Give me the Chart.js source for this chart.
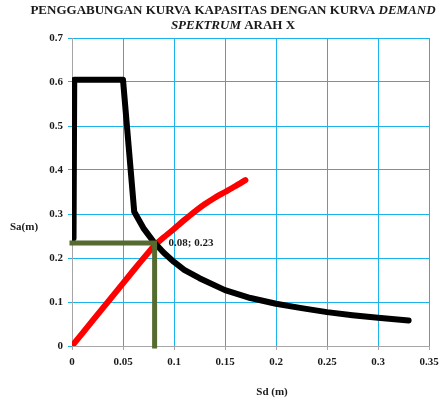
<!DOCTYPE html>
<html>
<head>
<meta charset="utf-8">
<script src="https://cdn.jsdelivr.net/npm/chart.js@4.4.0/dist/chart.umd.min.js"></script>
<style>
  html, body { margin: 0; padding: 0; background: #fff; }
  canvas { display: block; }
</style>
</head>
<body>
<canvas id="chart" width="439" height="404"></canvas>
<script>
// Axis tick labels
const xTickLabels = ['0', '0.05', '0.1', '0.15', '0.2', '0.25', '0.3', '0.35'];
const yTickLabels = ['0', '0.1', '0.2', '0.3', '0.4', '0.5', '0.6', '0.7'];

// Capacity curve (Sd in m, Sa)
const capacitySd = [0.001, 0.02, 0.04, 0.06, 0.08, 0.09, 0.10, 0.11, 0.12, 0.13, 0.14, 0.15, 0.16, 0.17];
const capacitySa = [0.003, 0.057, 0.114, 0.171, 0.226, 0.247, 0.266, 0.286, 0.305, 0.322, 0.337, 0.350, 0.363, 0.377];

// Demand spectrum (Sd in m, Sa)
const demandSd = [0.0015, 0.0022, 0.050, 0.061, 0.070, 0.080, 0.090, 0.100, 0.110, 0.125, 0.150, 0.175, 0.200, 0.225, 0.250, 0.275, 0.300, 0.330];
const demandSa = [0.245, 0.605, 0.605, 0.305, 0.268, 0.237, 0.212, 0.191, 0.173, 0.154, 0.127, 0.109, 0.096, 0.086, 0.077, 0.070, 0.064, 0.058];

// Performance point
const perfSd = 0.081;
const perfSa = 0.234;

// Title pieces: [text, italic]
const titleLine1 = [['PENGGABUNGAN KURVA KAPASITAS DENGAN KURVA ', false], ['DEMAND', true]];
const titleLine2 = [['SPEKTRUM', true], [' ARAH X', false]];
const xAxisTitle = 'Sd (m)';
const yAxisTitle = 'Sa(m)';

const serif = '"Liberation Serif", "Times New Roman", serif';
const gridBlue = '#1CB2EC';
const axisGrey = '#A6A6A6';
const textColor = '#1a1a1a';

const toPoints = (xs, ys) => xs.map((v, i) => ({ x: v, y: ys[i] }));

function drawMixed(ctx, parts, cx, cy, size) {
  const fonts = parts.map(p => (p[1] ? 'italic ' : '') + 'bold ' + size + 'px ' + serif);
  let total = 0;
  const widths = parts.map((p, i) => { ctx.font = fonts[i]; const w = ctx.measureText(p[0]).width; total += w; return w; });
  let x = cx - total / 2;
  ctx.textAlign = 'left';
  ctx.textBaseline = 'middle';
  parts.forEach((p, i) => {
    ctx.font = fonts[i];
    ctx.fillText(p[0], x, cy);
    x += widths[i];
  });
}

const textPlugin = {
  id: 'chartTexts',
  afterDraw(chart) {
    const ctx = chart.ctx;
    const xs = chart.scales.x, ys = chart.scales.y;
    ctx.save();
    ctx.fillStyle = textColor;
    drawMixed(ctx, titleLine1, 233, 11, 13);
    drawMixed(ctx, titleLine2, 233, 26, 13);

    ctx.font = 'bold 11px ' + serif;
    ctx.textBaseline = 'middle';
    ctx.textAlign = 'left';
    ctx.fillText(yAxisTitle, 10, 227);
    ctx.textAlign = 'center';
    ctx.fillText(xAxisTitle, 272, 392);

    // performance point label
    ctx.textAlign = 'left';
    ctx.fillText(perfSd.toFixed(2) + '; ' + perfSa.toFixed(2),
      xs.getPixelForValue(perfSd) + 14, ys.getPixelForValue(perfSa));
    ctx.restore();
  }
};

new Chart(document.getElementById('chart'), {
  type: 'scatter',
  data: {
    datasets: [
      {
        label: 'Performance point',
        data: [{ x: 0, y: perfSa }, { x: perfSd, y: perfSa }, { x: perfSd, y: 0 }],
        showLine: true,
        borderColor: '#556B2F',
        borderWidth: 5,
        borderCapStyle: 'square',
        borderJoinStyle: 'miter',
        pointRadius: 0,
        clip: false,
        order: 0
      },
      {
        label: 'Demand spectrum',
        data: toPoints(demandSd, demandSa),
        showLine: true,
        borderColor: '#000000',
        borderWidth: 6,
        borderCapStyle: 'round',
        borderJoinStyle: 'round',
        pointRadius: 0,
        tension: 0,
        order: 1
      },
      {
        label: 'Capacity curve',
        data: toPoints(capacitySd, capacitySa),
        showLine: true,
        borderColor: '#FF0000',
        borderWidth: 6,
        borderCapStyle: 'round',
        borderJoinStyle: 'round',
        pointRadius: 0,
        tension: 0.2,
        order: 2
      }
    ]
  },
  options: {
    responsive: false,
    animation: false,
    events: [],
    layout: { padding: { top: 38, right: 10, left: 0, bottom: 0 } },
    plugins: { legend: { display: false }, tooltip: { enabled: false }, title: { display: false } },
    scales: {
      x: {
        type: 'linear',
        min: 0, max: 0.35,
        afterFit(scale) { scale.height = 58; scale.paddingRight = 0; scale.paddingLeft = 0; },
        afterBuildTicks(scale) { scale.ticks = xTickLabels.map(t => ({ value: parseFloat(t) })); },
        ticks: {
          callback: (v, i) => xTickLabels[i],
          font: { family: serif, size: 11, weight: 'bold' },
          color: textColor,
          padding: 6,
          maxRotation: 0,
          autoSkip: false
        },
        grid: { color: gridBlue, lineWidth: 1, tickLength: 4, tickColor: axisGrey },
        border: { color: axisGrey, width: 1 }
      },
      y: {
        type: 'linear',
        min: 0, max: 0.7,
        afterFit(scale) { scale.width = 72; scale.paddingTop = 0; scale.paddingBottom = 0; },
        afterBuildTicks(scale) { scale.ticks = yTickLabels.map(t => ({ value: parseFloat(t) })); },
        ticks: {
          callback: (v, i) => yTickLabels[i],
          font: { family: serif, size: 11, weight: 'bold' },
          color: textColor,
          padding: 5,
          autoSkip: false
        },
        grid: { color: gridBlue, lineWidth: 1, tickLength: 4 },
        border: { color: axisGrey, width: 1 }
      }
    }
  },
  plugins: [textPlugin]
});
</script>
</body>
</html>
